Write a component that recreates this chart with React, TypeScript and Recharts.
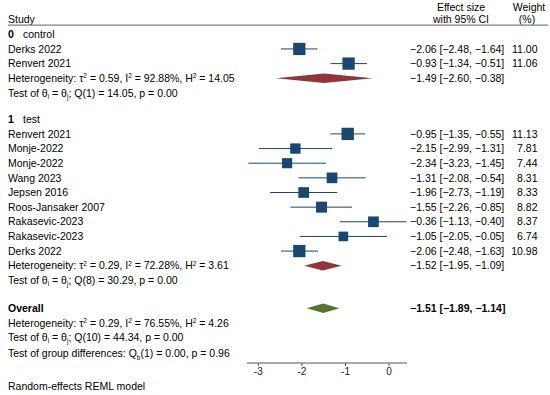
import React from "react";
import {
  ErrorBar,
  Label,
  ReferenceArea,
  Scatter,
  ScatterChart,
  XAxis,
  YAxis,
} from "recharts";

// ---- data ----
const groupCodes = ["0", "1"];
const groupNames = ["control", "test"];

const controlStudies = ["Derks 2022", "Renvert 2021"];
const controlEffect = [-2.06, -0.93];
const controlLower = [-2.48, -1.34];
const controlUpper = [-1.64, -0.51];
const controlWeight = [11.0, 11.06];
const controlCiText = ["−2.06 [−2.48, −1.64]", "−0.93 [−1.34, −0.51]"];

const testStudies = [
  "Renvert 2021",
  "Monje-2022",
  "Monje-2022",
  "Wang 2023",
  "Jepsen 2016",
  "Roos-Jansaker 2007",
  "Rakasevic-2023",
  "Rakasevic-2023",
  "Derks 2022",
];
const testEffect = [-0.95, -2.15, -2.34, -1.31, -1.96, -1.55, -0.36, -1.05, -2.06];
const testLower = [-1.35, -2.99, -3.23, -2.08, -2.73, -2.26, -1.13, -2.05, -2.48];
const testUpper = [-0.55, -1.31, -1.45, -0.54, -1.19, -0.85, 0.4, -0.05, -1.63];
const testWeight = [11.13, 7.81, 7.44, 8.31, 8.33, 8.82, 8.37, 6.74, 10.98];
// printed as in the source table (row 7 carries the source's sign)
const testCiText = [
  "−0.95 [−1.35, −0.55]",
  "−2.15 [−2.99, −1.31]",
  "−2.34 [−3.23, −1.45]",
  "−1.31 [−2.08, −0.54]",
  "−1.96 [−2.73, −1.19]",
  "−1.55 [−2.26, −0.85]",
  "−0.36 [−1.13, −0.40]",
  "−1.05 [−2.05, −0.05]",
  "−2.06 [−2.48, −1.63]",
];

const pooledEffect = [-1.49, -1.52];
const pooledLower = [-2.6, -1.95];
const pooledUpper = [-0.38, -1.09];
const pooledCiText = ["−1.49 [−2.60, −0.38]", "−1.52 [−1.95, −1.09]"];
const hetTau2 = [0.59, 0.29];
const hetI2 = [92.88, 72.28];
const hetH2 = [14.05, 3.61];
const qDf = [1, 8];
const qStat = [14.05, 30.29];
const qP = [0.0, 0.0];

const overallEffect = -1.51;
const overallLower = -1.89;
const overallUpper = -1.14;
const overallCiText = "−1.51 [−1.89, −1.14]";
const overallTau2 = 0.29;
const overallI2 = 76.55;
const overallH2 = 4.26;
const overallQDf = 10;
const overallQ = 44.34;
const overallP = 0.0;
const groupDiffDf = 1;
const groupDiffQ = 0.0;
const groupDiffP = 0.96;

const xTicks = [-3, -2, -1, 0];

// ---- styling ----
const FONT = "'Liberation Sans', Arial, Helvetica, sans-serif";
const FS = 10.5;
const NAVY = "#1a476f";
const MAROON = "#90353b";
const GREEN = "#55752f";

type Part = [string, "n" | "b" | "sub" | "sup"];
type Row = {
  kind: "header" | "title" | "study" | "het" | "test" | "overall" | "ohet" | "otest" | "group";
  slot: number;
  label?: string;
  code?: string;
  parts?: Part[];
  ci?: string;
  weight?: number;
  est?: number;
  lo?: number;
  hi?: number;
  err?: [number, number];
  color?: string;
};

const f2 = (v: number) => v.toFixed(2);

const hetParts = (t: number, i: number, h: number): Part[] => [
  ["Heterogeneity: τ", "n"],
  ["2", "sup"],
  [` = ${f2(t)}, I`, "n"],
  ["2", "sup"],
  [` = ${f2(i)}%, H`, "n"],
  ["2", "sup"],
  [` = ${f2(h)}`, "n"],
];

const testParts = (df: number, q: number, p: number): Part[] => [
  ["Test of θ", "n"],
  ["i", "sub"],
  [" = θ", "n"],
  ["j", "sub"],
  [`; Q(${df}) = ${f2(q)}, p = ${f2(p)}`, "n"],
];

// ---- row layout ----
const rows: Row[] = [{ kind: "header", slot: -1 }];
let slot = 0;
const groups = [
  [controlStudies, controlEffect, controlLower, controlUpper, controlWeight, controlCiText],
  [testStudies, testEffect, testLower, testUpper, testWeight, testCiText],
] as const;
groups.forEach(([names, est, lo, hi, w, ci], gi) => {
  if (gi > 0) slot += 0.8;
  rows.push({ kind: "title", slot, code: groupCodes[gi], label: groupNames[gi] });
  slot++;
  names.forEach((name, k) => {
    rows.push({
      kind: "study",
      slot,
      label: name,
      est: est[k],
      lo: lo[k],
      hi: hi[k],
      weight: w[k],
      ci: ci[k],
      err: [est[k] - lo[k], hi[k] - est[k]],
    });
    slot++;
  });
  rows.push({
    kind: "het",
    slot,
    parts: hetParts(hetTau2[gi], hetI2[gi], hetH2[gi]),
    ci: pooledCiText[gi],
    est: pooledEffect[gi],
    lo: pooledLower[gi],
    hi: pooledUpper[gi],
    color: MAROON,
  });
  slot++;
  rows.push({ kind: "test", slot, parts: testParts(qDf[gi], qStat[gi], qP[gi]) });
  slot++;
});
slot += 0.9;
rows.push({
  kind: "overall",
  slot,
  label: "Overall",
  ci: overallCiText,
  est: overallEffect,
  lo: overallLower,
  hi: overallUpper,
  color: GREEN,
});
slot++;
rows.push({ kind: "ohet", slot, parts: hetParts(overallTau2, overallI2, overallH2) });
slot++;
rows.push({ kind: "otest", slot, parts: testParts(overallQDf, overallQ, overallP) });
slot += 1.1;
rows.push({
  kind: "group",
  slot,
  parts: [
    ["Test of group differences: Q", "n"],
    ["b", "sub"],
    [`(${groupDiffDf}) = ${f2(groupDiffQ)}, p = ${f2(groupDiffP)}`, "n"],
  ],
});

const studyRows = rows.filter((r) => r.kind === "study");
const diamondRows = rows.filter((r) => r.kind === "het" || r.kind === "overall");

function Rich({ x, y, parts }: { x: number; y: number; parts: Part[] }) {
  let shift = 0;
  return (
    <text
      x={x}
      y={y + 3.7}
      fontSize={FS}
      fontFamily={FONT}
      fill="#000"
      style={{ whiteSpace: "pre" }}
    >
      {parts.map(([t, k], i) => {
        const target = k === "sub" ? 2.2 : k === "sup" ? -3.6 : 0;
        const dy = target - shift;
        shift = target;
        return (
          <tspan
            key={i}
            dy={dy}
            fontSize={k === "sub" || k === "sup" ? 6.5 : undefined}
            fontWeight={k === "b" ? "bold" : undefined}
          >
            {t}
          </tspan>
        );
      })}
    </text>
  );
}

const txt = (x: number, y: number, s: string, anchor = "start", bold = false) => (
  <text
    x={x}
    y={y + 3.7}
    fontSize={FS}
    fontFamily={FONT}
    fill="#000"
    textAnchor={anchor as any}
    fontWeight={bold ? "bold" : undefined}
    style={{ whiteSpace: "pre" }}
  >
    {s}
  </text>
);

function RowTick(props: any) {
  const { y, payload } = props;
  const row = rows.find((r) => Math.abs(r.slot - payload.value) < 1e-6);
  if (!row) return null;
  if (row.kind === "header") {
    return (
      <g>
        {txt(8, y, "Study")}
        {txt(461, y - 12.5, "Effect size", "middle")}
        {txt(461, y, "with 95% CI", "middle")}
        {txt(529, y - 12.5, "Weight", "middle")}
        {txt(527, y, "(%)", "middle")}
        <line x1={8} x2={548} y1={y + 5.5} y2={y + 5.5} stroke="#808080" strokeWidth={1.3} />
      </g>
    );
  }
  return (
    <g>
      {row.kind === "title" && (
        <>
          {txt(8, y, row.code!, "start", true)}
          {txt(23, y, row.label!)}
        </>
      )}
      {row.kind === "study" && txt(8, y, row.label!)}
      {row.kind === "overall" && txt(8, y, row.label!, "start", true)}
      {row.parts && <Rich x={8} y={y} parts={row.parts} />}
      {row.ci && txt(410, y, row.ci, "start", row.kind === "overall")}
      {row.weight !== undefined && txt(537.5, y, f2(row.weight), "end")}
    </g>
  );
}

function Square(props: any) {
  const { cx, cy, payload } = props;
  const s = 3.7 * Math.sqrt(payload.weight);
  return <rect x={cx - s / 2} y={cy - s / 2} width={s} height={s} fill={NAVY} />;
}

function Diamond(props: any) {
  const { x, y, width, height, est, lo, hi, color } = props;
  const mx = x + (width * (est - lo)) / (hi - lo);
  const my = y + height / 2;
  return (
    <polygon
      points={`${x},${my} ${mx},${y} ${x + width},${my} ${mx},${y + height}`}
      fill={color}
    />
  );
}

export default function App() {
  return (
    <div style={{ position: "absolute", left: 0, top: 0, width: 550, height: 395, background: "#fff" }}>
      <ScatterChart
        width={550}
        height={395}
        margin={{ top: 19.65, right: 143, bottom: 0, left: 0 }}
        style={{ fontFamily: FONT }}
      >
        <XAxis
          type="number"
          dataKey="est"
          domain={[-3.26, 0.41]}
          allowDataOverflow
          ticks={xTicks}
          interval={0}
          height={32}
          tickSize={3}
          tickMargin={2}
          axisLine={{ stroke: "#555" }}
          tickLine={{ stroke: "#555" }}
          tick={{ fontSize: 10, fill: "#222", fontFamily: FONT }}
        >
          <Label
            content={() => (
              <text x={8} y={390} fontSize={FS} fontFamily={FONT} fill="#000">
                Random-effects REML model
              </text>
            )}
          />
        </XAxis>
        <YAxis
          type="number"
          dataKey="slot"
          domain={[-1, 22.44]}
          allowDataOverflow
          reversed
          ticks={rows.map((r) => r.slot)}
          interval={0}
          width={247}
          axisLine={false}
          tickLine={false}
          tick={<RowTick />}
        />
        {diamondRows.map((r) => (
          <ReferenceArea
            key={`d${r.slot}`}
            x1={r.lo}
            x2={r.hi}
            y1={r.slot - 0.33}
            y2={r.slot + 0.33}
            shape={(p: any) => <Diamond {...p} est={r.est} lo={r.lo} hi={r.hi} color={r.color} />}
          />
        ))}
        <Scatter data={studyRows} shape={<Square />} isAnimationActive={false}>
          <ErrorBar dataKey="err" direction="x" width={0} stroke={NAVY} strokeWidth={1} />
        </Scatter>
      </ScatterChart>
    </div>
  );
}
